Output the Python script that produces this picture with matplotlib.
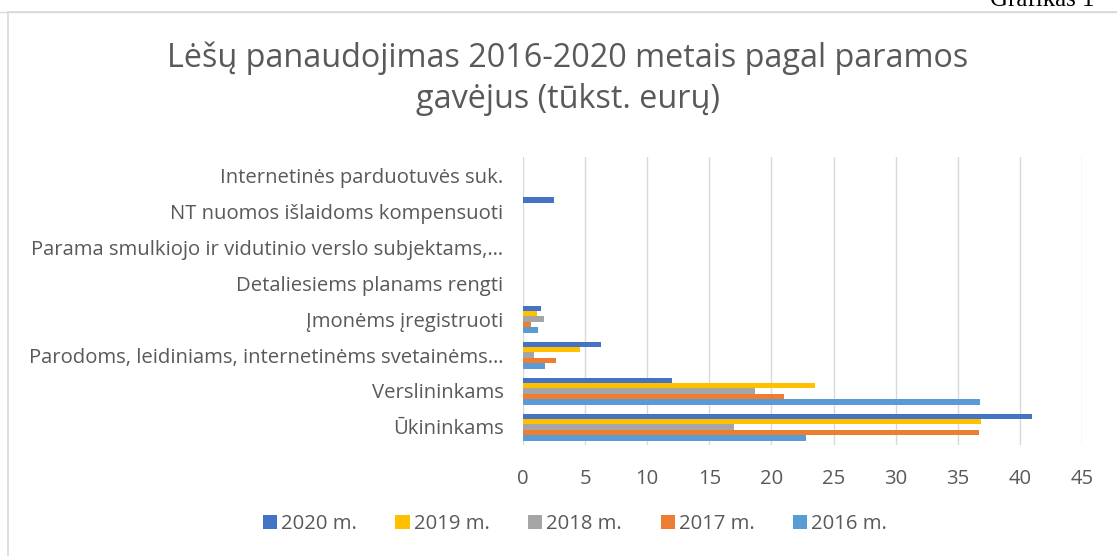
#!/usr/bin/env python3
"""Lėšų panaudojimas 2016-2020 pagal paramos gavėjus (grouped horizontal bars)."""

import matplotlib

matplotlib.use("Agg")
import matplotlib.pyplot as plt
from matplotlib.patches import Rectangle
import numpy as np

categories = [
    "Ūkininkams",
    "Verslininkams",
    "Parodoms, leidiniams, internetinėms svetainėms…",
    "Įmonėms įregistruoti",
    "Detaliesiems planams rengti",
    "Parama smulkiojo ir vidutinio verslo subjektams,…",
    "NT nuomos išlaidoms kompensuoti",
    "Internetinės parduotuvės suk.",
]
series_names = ["2020 m.", "2019 m.", "2018 m.", "2017 m.", "2016 m."]
v2020 = [41.0, 12.0, 6.3, 1.45, 0, 0, 2.5, 0]
v2019 = [36.9, 23.5, 4.55, 1.15, 0, 0, 0, 0]
v2018 = [17.0, 18.7, 0.9, 1.7, 0, 0, 0, 0]
v2017 = [36.7, 21.0, 2.65, 0.65, 0, 0, 0, 0]
v2016 = [22.8, 36.8, 1.8, 1.2, 0, 0, 0, 0]
colors = ["#4472C4", "#FFC000", "#A5A5A5", "#ED7D31", "#5B9BD5"]

FONT = ["Open Sans", "DejaVu Sans"]


def main() -> None:
    plt.rcParams["font.family"] = FONT
    fig = plt.figure(figsize=(11.17, 5.56), dpi=100)
    ax = fig.add_axes([523 / 1117, 1 - 445 / 556, (1082 - 523) / 1117, (445 - 157) / 556])

    y = np.arange(len(categories))
    h = 0.15
    all_vals = [v2020, v2019, v2018, v2017, v2016]
    for i, (name, vals, c) in enumerate(zip(series_names, all_vals, colors)):
        ax.barh(y + (2 - i) * h, vals, height=h, color=c, label=name, zorder=3)

    ax.set_xlim(0, 45)
    ax.set_ylim(-0.5, len(categories) - 0.5)
    ax.set_xticks(np.arange(0, 46, 5))
    ax.set_yticks(y)
    ax.set_yticklabels(categories)
    ax.tick_params(axis="both", length=0, labelsize=14.6, colors="#595959")
    ax.tick_params(axis="x", pad=17)
    ax.tick_params(axis="y", pad=14)
    ax.grid(axis="x", color="#D9D9D9", linewidth=1, zorder=0)
    for s in ax.spines.values():
        s.set_visible(False)

    cx = 568 / 1117
    fig.text(cx, 1 - 58 / 556, "Lėšų panaudojimas 2016-2020 metais pagal paramos",
             ha="center", va="center", fontsize=23.3, color="#595959")
    fig.text(cx, 1 - 100 / 556, "gavėjus (tūkst. eurų)",
             ha="center", va="center", fontsize=23.3, color="#595959")

    handles, labels = ax.get_legend_handles_labels()
    fig.legend(handles, labels, loc="center", bbox_to_anchor=(575 / 1117, 1 - 524 / 556), ncol=5,
               frameon=False, fontsize=14.6, labelcolor="#595959", handlelength=0.7,
               handleheight=0.7, handletextpad=0.2, columnspacing=1.9)

    # chart border and page elements
    fig.add_artist(Rectangle((8 / 1117, -0.01), 1.0, 1 - 12 / 556 + 0.01,
                             transform=fig.transFigure, fill=False,
                             edgecolor="#D9D9D9", linewidth=1.2))
    fig.add_artist(plt.Line2D([0, 1], [1 - 12 / 556] * 2, transform=fig.transFigure,
                              color="#D9D9D9", linewidth=1))
    fig.text(990 / 1117, 1 - 6 / 556, "Grafikas 1", ha="left", va="baseline",
             fontsize=18, family="Liberation Serif", color="black")

    fig.savefig("out.png", dpi=100)
    plt.close(fig)


if __name__ == "__main__":
    main()
